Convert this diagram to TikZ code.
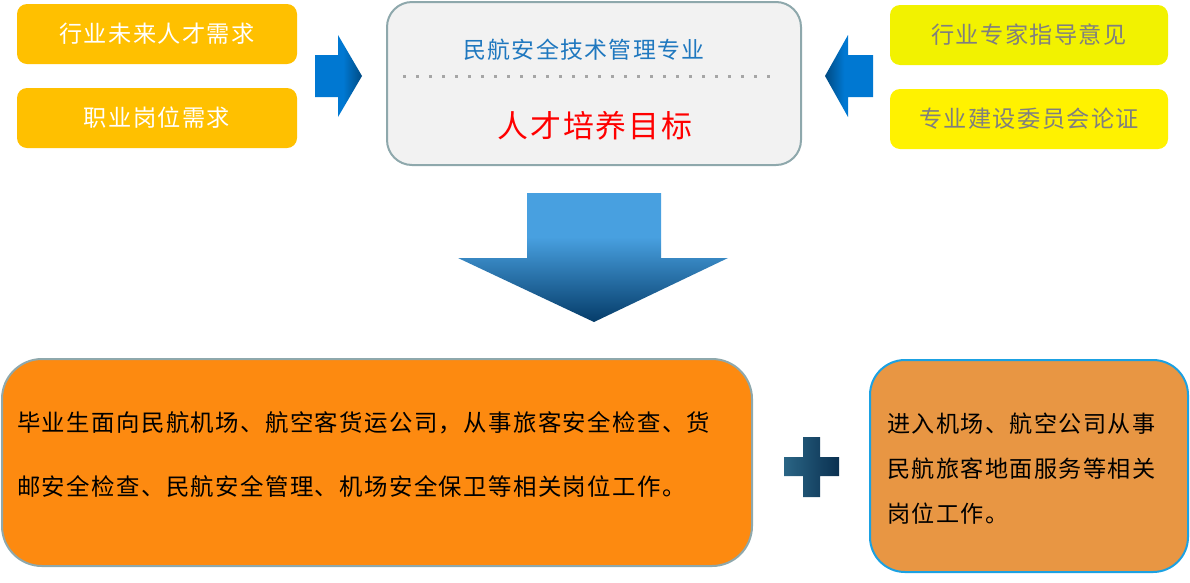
\documentclass[tikz,border=0pt]{standalone}
\usepackage{fontspec}
\usepackage{xcolor}
\newfontfamily\cjk{Noto Sans CJK SC}[LetterSpace=6]
\usetikzlibrary{positioning}
\definecolor{needorange}{HTML}{FFC000}
\definecolor{adviceyellow}{HTML}{F2F200}
\definecolor{advicegrey}{HTML}{7F7F7F}
\definecolor{targetgrey}{HTML}{F2F2F2}
\definecolor{edgegrey}{HTML}{8EA8AC}
\definecolor{titleblue}{HTML}{1F78BF}
\definecolor{joborange}{HTML}{FD8A10}
\definecolor{servorange}{HTML}{E89643}
\definecolor{servcyan}{HTML}{1BA1E2}
\definecolor{arrowblue}{HTML}{0078D2}
\definecolor{arrowdark}{HTML}{004A82}
\definecolor{downlight}{HTML}{48A0E0}
\definecolor{downdark}{HTML}{053C69}
\definecolor{plusleft}{HTML}{2A6585}
\definecolor{plusright}{HTML}{0A3050}
\pgfdeclarehorizontalshading{toright}{100bp}{color(0bp)=(arrowblue); color(25bp)=(arrowblue); color(55bp)=(arrowblue); color(75bp)=(arrowdark); color(100bp)=(arrowdark)}
\pgfdeclarehorizontalshading{toleft}{100bp}{color(0bp)=(arrowdark); color(25bp)=(arrowdark); color(45bp)=(arrowblue); color(75bp)=(arrowblue); color(100bp)=(arrowblue)}
\pgfdeclareverticalshading{todown}{100bp}{color(0bp)=(downdark); color(25bp)=(downdark); color(58bp)=(downlight); color(100bp)=(downlight)}
\pgfdeclarehorizontalshading{plusshade}{100bp}{color(0bp)=(plusleft); color(25bp)=(plusleft); color(75bp)=(plusright); color(100bp)=(plusright)}
\tikzstyle{need} = [rectangle, rounded corners=10pt, minimum width=280pt, minimum height=60pt, inner sep=0pt, fill=needorange, text=white, font=\cjk\fontsize{23.2}{26}\selectfont]
\tikzstyle{advice} = [need, minimum width=278pt, fill=adviceyellow, text=advicegrey]
\tikzstyle{target} = [rectangle, rounded corners=25pt, minimum width=414pt, minimum height=163pt, draw=edgegrey, line width=2pt, fill=targetgrey]
\tikzstyle{job} = [rectangle, rounded corners=40pt, line width=2pt, inner sep=0pt]
\tikzstyle{jobtext} = [anchor=west, align=left, inner sep=0pt, text=black]
\tikzstyle{sepline} = [draw=black!35, line width=3pt, dash pattern=on 3pt off 10pt]

\begin{document}
\begin{tikzpicture}[x=1pt, y=-1pt, node distance=84pt, on grid]
  \useasboundingbox (0,0) rectangle (1190,582);
  % requirements and advice
  \node (need1) [need] at (157,34) {行业未来人才需求};
  \node (need2) [need, below=84pt of need1] {职业岗位需求};
  \node (advice1) [advice] at (1029,35) {行业专家指导意见};
  \node (advice2) [advice, below=84pt of advice1, fill=yellow] {专业建设委员会论证};

  % training target
  \node (target) [target] at (594,83.5) {};
  \node (major) [text=titleblue, font=\cjk\fontsize{22.9}{26}\selectfont] at (584,50) {民航安全技术管理专业};
  \draw[sepline] (403,76) -- (772,76);
  \node (goal) [text=red, font=\cjk\fontsize{30.9}{34}\selectfont] at (595,126) {人才培养目标};

  % block arrows
  \shade[shading=toright] (315,55) -- (338,55) -- (338,35) -- (362,76) -- (338,117) -- (338,97) -- (315,97) -- cycle;
  \shade[shading=toleft] (873,55) -- (848,55) -- (848,35) -- (825,76) -- (848,117) -- (848,97) -- (873,97) -- cycle;
  \shade[shading=todown] (527,193) -- (661,193) -- (661,258) -- (728,258) -- (594,322) -- (458,258) -- (527,258) -- cycle;

  % jobs
  \node (job1) [job, draw=edgegrey, fill=joborange, minimum width=750pt, minimum height=207pt] at (377,462.5) {};
  \node (jobtext1) [jobtext, font=\cjk\fontsize{23.4}{64}\selectfont] at (17,455) {毕业生面向民航机场、航空客货运公司，从事旅客安全检查、货\\邮安全检查、民航安全管理、机场安全保卫等相关岗位工作。};
  \shade[shading=plusshade] (803,437) -- (820,437) -- (820,457) -- (839,457) -- (839,476) -- (820,476) -- (820,497) -- (803,497) -- (803,476) -- (784,476) -- (784,457) -- (803,457) -- cycle;
  \node (job2) [job, draw=servcyan, fill=servorange, rounded corners=35pt, minimum width=318pt, minimum height=212pt] at (1029,466) {};
  \node (jobtext2) [jobtext, font=\cjk\fontsize{23.1}{45}\selectfont] at (887,469) {进入机场、航空公司从事\\民航旅客地面服务等相关\\岗位工作。};
\end{tikzpicture}
\end{document}
